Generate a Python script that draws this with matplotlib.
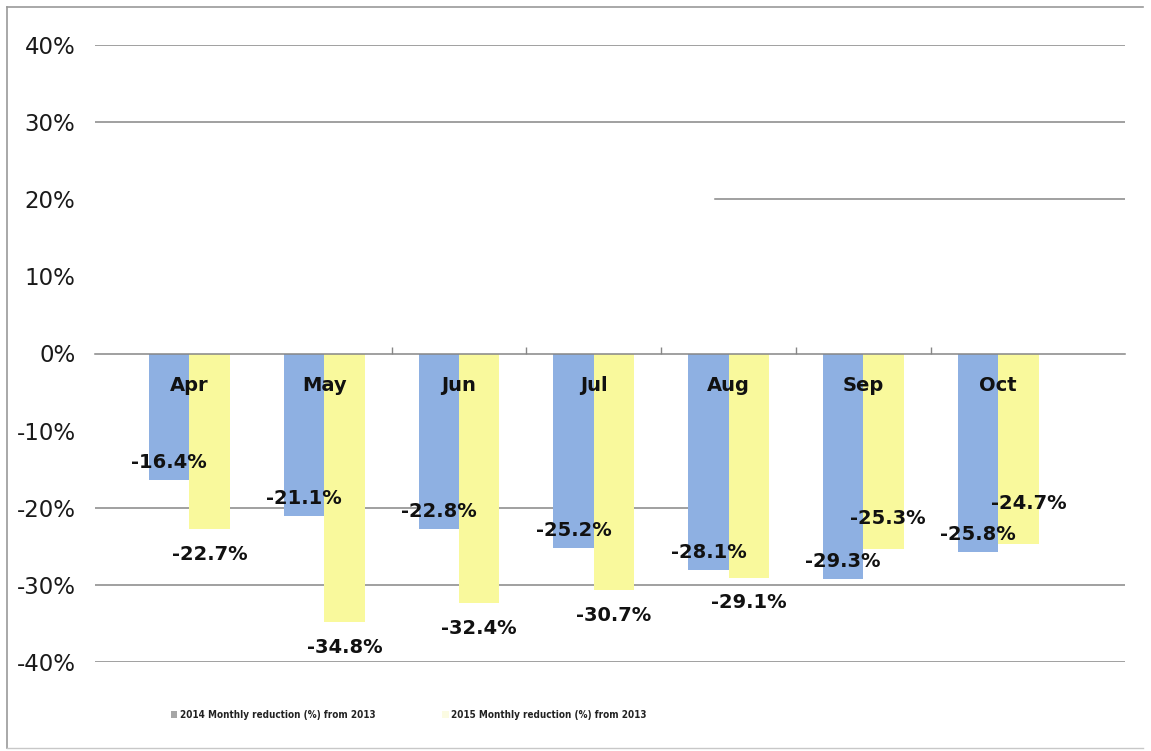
import matplotlib
matplotlib.use("Agg")
import matplotlib.pyplot as plt
from matplotlib.lines import Line2D
from matplotlib.patches import Patch
import numpy as np

# ---- data ----
months = ["Apr", "May", "Jun", "Jul", "Aug", "Sep", "Oct"]
red_2014 = [-16.4, -21.1, -22.8, -25.2, -28.1, -29.3, -25.8]
red_2015 = [-22.7, -34.8, -32.4, -30.7, -29.1, -25.3, -24.7]
yticks = [40, 30, 20, 10, 0, -10, -20, -30, -40]
series_names = ["2014 Monthly reduction (%) from 2013",
                "2015 Monthly reduction (%) from 2013"]

# ---- style ----
BLUE = "#8eb0e2"
YELLOW = "#f9f99c"
GRID = "#868686"
W, H = 1151, 751

fig = plt.figure(figsize=(W / 100, H / 100), dpi=100)
ax = fig.add_axes([95 / W, 1 - 662 / H, (1125 - 95) / W, (662 - 45) / H])

x = np.arange(len(months))
bw = 0.3
ax.bar(x - bw / 2, red_2014, bw, color=BLUE, zorder=2)
ax.bar(x + bw / 2, red_2015, bw, color=YELLOW, zorder=2)

ax.set_xlim(-0.7, 6.94)
ax.set_ylim(-40, 40)

# gridlines (some only partially drawn in the original)
grid_span = {40: (0, 1), 30: (0, 1), 20: (0.602, 1), -20: (0, 0.58),
             -30: (0, 1), -40: (0, 1)}
for yv, (a, b) in grid_span.items():
    ax.axhline(yv, xmin=a, xmax=b, color=GRID, lw=1.1, zorder=0)

for s in ["top", "right", "left"]:
    ax.spines[s].set_visible(False)
ax.spines["bottom"].set_position(("data", 0))
ax.spines["bottom"].set_color(GRID)
ax.spines["bottom"].set_linewidth(1.1)
ax.spines["bottom"].set_zorder(3)

ax.set_yticks(yticks)
ax.set_yticklabels([f"{v}%" for v in yticks], fontsize=16.5,
                   family="DejaVu Sans", color="#1a1a1a")
ax.tick_params(axis="y", length=0, pad=14)

ax.set_xticks([])
ax.set_xticks(x[1:-1] + 0.5, minor=True)
ax.tick_params(axis="x", which="minor", direction="in", length=5,
               color=GRID, width=1)

# category labels (drawn inside the bars, just under the zero line)
for i, m in enumerate(months):
    ax.text(i, -4.15, m, ha="center", va="center", fontsize=14,
            fontweight="bold", color="#111111", zorder=5)

# data labels
for i, v in enumerate(red_2014):
    ax.text(i - bw / 2, v + 2.3, f"{v}%", ha="center", va="center",
            fontsize=14, fontweight="bold", color="#111111", zorder=5)
off_2015 = [-3.4, -3.3, -3.3, -3.3, -3.2, 3.9, 5.2]
dx_2015 = [0, 0, 0, 0, 0, 0.03, 0.08]
for i, v in enumerate(red_2015):
    ax.text(i + bw / 2 + dx_2015[i], v + off_2015[i], f"{v}%", ha="center",
            va="center", fontsize=14, fontweight="bold", color="#111111",
            zorder=5)

# legend
handles = [Patch(facecolor="#a6a6a6", edgecolor="none"),
           Patch(facecolor="#fbfbe2", edgecolor="none")]
leg = fig.legend(handles, series_names, loc="center left",
                 bbox_to_anchor=(162 / W, 1 - 715 / H), ncol=2, frameon=False,
                 handlelength=0.65, handleheight=0.65, handletextpad=0.25,
                 columnspacing=6.8,
                 prop={"family": "DejaVu Sans", "stretch": "condensed",
                       "weight": "bold", "size": 7.1})
for t in leg.get_texts():
    t.set_color("#222222")

# outer frame
fx = lambda px: px / W
fy = lambda py: 1 - py / H
fig.add_artist(Line2D([fx(7), fx(7)], [fy(7), fy(748)], color="#9a9a9a", lw=1.2))
fig.add_artist(Line2D([fx(7), fx(1143)], [fy(7), fy(7)], color="#9a9a9a", lw=1.2))
fig.add_artist(Line2D([fx(7), fx(1143)], [fy(748), fy(748)], color="#c8c8c8", lw=1.0))

fig.savefig("out.png", dpi=100)
